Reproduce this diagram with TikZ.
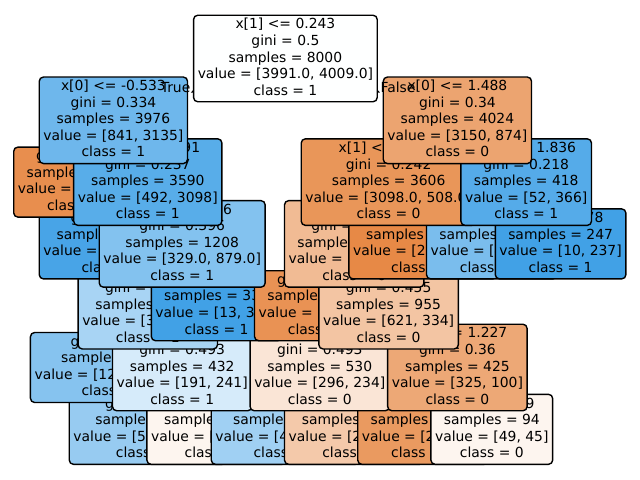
\documentclass[tikz,border=0pt]{standalone}
\usepackage{fontspec}
\setmainfont{DejaVu Sans}
\usetikzlibrary{arrows.meta}
\newcommand\Ftop{\rule{0pt}{8.4pt}}
\newcommand\Fbot{\rule[-3.3pt]{0pt}{3.3pt}}
\definecolor{colA}{RGB}{254,255,255}
\definecolor{colB}{RGB}{110,183,236}
\definecolor{colC}{RGB}{232,142,78}
\definecolor{colD}{RGB}{88,173,233}
\definecolor{colE}{RGB}{72,164,231}
\definecolor{colF}{RGB}{131,194,239}
\definecolor{colG}{RGB}{168,212,244}
\definecolor{colH}{RGB}{65,161,230}
\definecolor{colI}{RGB}{134,195,239}
\definecolor{colJ}{RGB}{214,235,250}
\definecolor{colLa}{RGB}{151,203,241}
\definecolor{colLb}{RGB}{253,245,239}
\definecolor{colK}{RGB}{236,164,112}
\definecolor{colL}{RGB}{233,150,89}
\definecolor{colN}{RGB}{241,187,148}
\definecolor{colR}{RGB}{233,146,84}
\definecolor{colS}{RGB}{243,197,163}
\definecolor{colT}{RGB}{250,229,214}
\definecolor{colLc}{RGB}{160,208,243}
\definecolor{colLd}{RGB}{244,201,170}
\definecolor{colU}{RGB}{237,168,118}
\definecolor{colLe}{RGB}{234,154,96}
\definecolor{colLf}{RGB}{253,245,239}
\definecolor{colO}{RGB}{231,137,70}
\definecolor{colM}{RGB}{85,171,233}
\definecolor{colP}{RGB}{122,189,237}
\definecolor{colQ}{RGB}{65,161,230}
\begin{document}
\begin{tikzpicture}[x=0.72pt,y=-0.72pt,
  box/.style={draw=black,line width=1pt,rounded corners=3pt,align=center,
    inner xsep=3pt,inner ysep=0pt,font=\fontsize{10}{11.9}\selectfont,text=black},
  split/.style={box,minimum height=62.3pt},
  leaf/.style={box,minimum height=50.4pt},
  arr/.style={-{Straight Barb[length=4pt,width=4pt]},line width=1pt,shorten >=2pt,shorten <=2pt},
  edgelabel/.style={inner sep=0pt,font=\fontsize{10}{11.9}\selectfont}]
\fill[white] (0,0) rectangle (640,480);
\useasboundingbox (0,0) rectangle (640,480);
% centres
\coordinate (cA) at (285.4,58.5);
\coordinate (cB) at (113.4,120.3);
\coordinate (cK) at (457.4,120.3);
\coordinate (cC) at (79,182.1);
\coordinate (cD) at (147.8,182.1);
\coordinate (cL) at (388.6,182.1);
\coordinate (cM) at (526.2,182.1);
\coordinate (cE) at (113.4,243.9);
\coordinate (cF) at (182.2,243.9);
\coordinate (cN) at (354.2,243.9);
\coordinate (cO) at (423,243.9);
\coordinate (cP) at (491.8,243.9);
\coordinate (cQ) at (560.6,243.9);
\coordinate (cG) at (147.8,305.7);
\coordinate (cH) at (216.6,305.7);
\coordinate (cR) at (319.8,305.7);
\coordinate (cS) at (388.6,305.7);
\coordinate (cI) at (113.4,367.5);
\coordinate (cJ) at (182.2,367.5);
\coordinate (cT) at (319.8,367.5);
\coordinate (cU) at (457.4,367.5);
\coordinate (cLa) at (147.8,429.3);
\coordinate (cLb) at (216.6,429.3);
\coordinate (cLc) at (285.4,429.3);
\coordinate (cLd) at (354.2,429.3);
\coordinate (cLe) at (423,429.3);
\coordinate (cLf) at (491.8,429.3);
% depth 6
\node[leaf,fill=colLa] (La) at (cLa) {\Ftop gini = 0.436\\samples = 171\\value = [55.0, 116.0]\\class = 1\Fbot};
\draw[arr] (cJ) -- (La);
\node[leaf,fill=colLb] (Lb) at (cLb) {\Ftop gini = 0.499\\samples = 261\\value = [136, 125]\\class = 0\Fbot};
\draw[arr] (cJ) -- (Lb);
\node[leaf,fill=colLc] (Lc) at (cLc) {\Ftop gini = 0.451\\samples = 140\\value = [48.0, 92.0]\\class = 1\Fbot};
\draw[arr] (cT) -- (Lc);
\node[leaf,fill=colLd] (Ld) at (cLd) {\Ftop gini = 0.463\\samples = 390\\value = [248, 142]\\class = 0\Fbot};
\draw[arr] (cT) -- (Ld);
\node[leaf,fill=colLe] (Le) at (cLe) {\Ftop gini = 0.277\\samples = 331\\value = [276, 55]\\class = 0\Fbot};
\draw[arr] (cU) -- (Le);
\node[leaf,fill=colLf] (Lf) at (cLf) {\Ftop gini = 0.499\\samples = 94\\value = [49, 45]\\class = 0\Fbot};
\draw[arr] (cU) -- (Lf);
% depth 5
\node[leaf,fill=colI] (I) at (cI) {\Ftop gini = 0.404\\samples = 445\\value = [125.0, 320.0]\\class = 1\Fbot};
\draw[arr] (cG) -- (I);
\node[split,fill=colJ] (J) at (cJ) {\Ftop x[1] <= -0.218\\gini = 0.493\\samples = 432\\value = [191, 241]\\class = 1\Fbot};
\draw[arr] (cG) -- (J);
\node[split,fill=colT] (T) at (cT) {\Ftop x[0] <= 1.062\\gini = 0.493\\samples = 530\\value = [296, 234]\\class = 0\Fbot};
\draw[arr] (cS) -- (T);
\node[split,fill=colU] (U) at (cU) {\Ftop x[1] <= 1.227\\gini = 0.36\\samples = 425\\value = [325, 100]\\class = 0\Fbot};
\draw[arr] (cS) -- (U);
% depth 4
\node[split,fill=colG] (G) at (cG) {\Ftop x[0] <= 0.412\\gini = 0.461\\samples = 877\\value = [316, 561]\\class = 1\Fbot};
\draw[arr] (cF) -- (G);
\node[leaf,fill=colH] (H) at (cH) {\Ftop gini = 0.076\\samples = 331\\value = [13, 318]\\class = 1\Fbot};
\draw[arr] (cF) -- (H);
\node[leaf,fill=colR] (R) at (cR) {\Ftop gini = 0.211\\samples = 175\\value = [154, 21]\\class = 0\Fbot};
\draw[arr] (cN) -- (R);
\node[split,fill=colS] (S) at (cS) {\Ftop x[1] <= 1.604\\gini = 0.455\\samples = 955\\value = [621, 334]\\class = 0\Fbot};
\draw[arr] (cN) -- (S);
% depth 3
\node[leaf,fill=colE] (E) at (cE) {\Ftop gini = 0.127\\samples = 2382\\value = [163, 2219]\\class = 1\Fbot};
\draw[arr] (cD) -- (E);
\node[split,fill=colF] (F) at (cF) {\Ftop x[1] <= 0.076\\gini = 0.396\\samples = 1208\\value = [329.0, 879.0]\\class = 1\Fbot};
\draw[arr] (cD) -- (F);
\node[split,fill=colN] (N) at (cN) {\Ftop x[0] <= 0.615\\gini = 0.431\\samples = 1130\\value = [775, 355]\\class = 0\Fbot};
\draw[arr] (cL) -- (N);
\node[leaf,fill=colO] (O) at (cO) {\Ftop gini = 0.116\\samples = 2476\\value = [2323, 153]\\class = 0\Fbot};
\draw[arr] (cL) -- (O);
\node[leaf,fill=colP] (P) at (cP) {\Ftop gini = 0.371\\samples = 171\\value = [42, 129]\\class = 1\Fbot};
\draw[arr] (cM) -- (P);
\node[leaf,fill=colQ] (Q) at (cQ) {\Ftop gini = 0.078\\samples = 247\\value = [10, 237]\\class = 1\Fbot};
\draw[arr] (cM) -- (Q);
% depth 2
\node[leaf,fill=colC] (C) at (cC) {\Ftop gini = 0.173\\samples = 386\\value = [349, 37]\\class = 0\Fbot};
\draw[arr] (cB) -- (C);
\node[split,fill=colD] (D) at (cD) {\Ftop x[0] <= -0.091\\gini = 0.237\\samples = 3590\\value = [492, 3098]\\class = 1\Fbot};
\draw[arr] (cB) -- (D);
\node[split,fill=colL] (L) at (cL) {\Ftop x[1] <= 0.946\\gini = 0.242\\samples = 3606\\value = [3098.0, 508.0]\\class = 0\Fbot};
\draw[arr] (cK) -- (L);
\node[split,fill=colM] (M) at (cM) {\Ftop x[1] <= 1.836\\gini = 0.218\\samples = 418\\value = [52, 366]\\class = 1\Fbot};
\draw[arr] (cK) -- (M);
% depth 1
\node[split,fill=colB] (B) at (cB) {\Ftop x[0] <= -0.533\\gini = 0.334\\samples = 3976\\value = [841, 3135]\\class = 1\Fbot};
\draw[arr] (cA) -- (B);
\node[edgelabel,anchor=base east] (truelab) at (190.6,92) {True};
\node[split,fill=colK] (K) at (cK) {\Ftop x[0] <= 1.488\\gini = 0.34\\samples = 4024\\value = [3150, 874]\\class = 0\Fbot};
\draw[arr] (cA) -- (K);
\node[edgelabel,anchor=base west] (falselab) at (380.3,92) {False};
% depth 0
\node[split,fill=colA] (A) at (cA) {\Ftop x[1] <= 0.243\\gini = 0.5\\samples = 8000\\value = [3991.0, 4009.0]\\class = 1\Fbot};
\end{tikzpicture}
\end{document}
